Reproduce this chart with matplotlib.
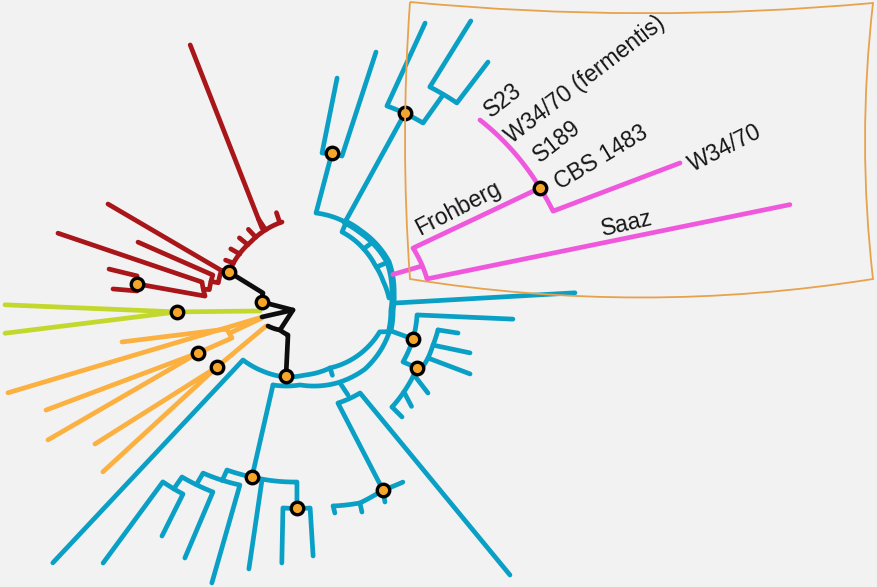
import numpy as np
import matplotlib
matplotlib.use("Agg")
import matplotlib.pyplot as plt
from matplotlib.path import Path
from matplotlib.patches import PathPatch

# ---------------- data: branches as polylines of (angle deg, distance from root centre) ----------------
blue_backbone = [
    [(62.2, 85.9), (50.0, 86.5), (39.5, 88.1), (23.4, 90.5), (5.2, 88.4), (-7.9, 87.8), (-20.6, 90.8)],
]
blue_paths = [
    # top group
    [(81.7, 222.3), (83.3, 146.0), (75.4, 146.7), (73.9, 256.0)],
    [(79.5, 147.5), (82.6, 85.7), (62.2, 85.9), (61.6, 210.3)],
    [(66.4, 300.0), (66.9, 208.8), (56.0, 211.1), (55.8, 245.5)],
    [(59.1, 322.9), (59.4, 245.2), (52.1, 247.2), (52.2, 298.6)],
    # inner / lower backbone
    [(61.5, 86.0), (60.7, 75.7), (40.0, 76.5), (25.2, 77.4), (12.0, 80.0), (0.0, 84.0)],
    [(40.0, 76.5), (39.5, 88.1)],
    [(23.4, 78.0), (23.4, 90.5)],
    [(-20.6, 90.8), (-35.0, 92.0), (-50.0, 93.0), (-69.4, 90.8), (-93.3, 87.1), (-110.2, 92.7)],
    [(-22.0, 90.0), (-24.4, 82.0), (-45.0, 78.5), (-70.3, 74.3), (-90.0, 77.0), (-104.2, 81.5),
     (-120.0, 84.5), (-135.0, 87.7), (-133.6, 365.7)],
    [(-70.3, 74.3), (-70.5, 82.0)],
    # right group
    [(-3.2, 90.0), (1.1, 270.0)],
    [(-21.0, 90.0), (-20.8, 115.5)],
    [(-5.8, 209.0), (-8.6, 113.3), (-20.8, 115.5), (-33.1, 117.0), (-32.0, 132.0)],
    [(-13.5, 136.8), (-20.2, 136.4), (-26.0, 136.9), (-31.0, 136.3), (-32.0, 132.0),
     (-41.1, 135.4), (-51.4, 139.5)],
    [(-13.5, 136.8), (-12.9, 157.0)],
    [(-20.2, 136.4), (-18.4, 173.9)],
    [(-26.0, 136.9), (-24.7, 181.7)],
    [(-35.2, 133.3), (-37.7, 155.4)],
    [(-43.5, 136.3), (-45.5, 152.0)],
    [(-51.4, 139.5), (-50.8, 153.5)],
    # bottom-right group
    [(-67.6, 91.9), (-66.1, 106.1)],
    [(-67.9, 207.2), (-72.6, 110.1), (-59.9, 109.8), (-53.5, 344.6)],
    [(-62.0, 208.5), (-67.9, 207.2), (-75.0, 212.2), (-82.3, 209.9)],
    [(-67.9, 207.2), (-68.6, 219.1)],
    [(-75.0, 212.2), (-75.1, 221.5)],
    [(-82.3, 209.9), (-82.1, 217.1)],
    # bottom group
    [(-110.2, 92.7), (-106.5, 186.7)],
    [(-114.4, 200.4), (-114.4, 188.9), (-106.5, 186.7), (-92.5, 184.2), (-92.2, 210.2)],
    [(-103.3, 186.9), (-101.7, 276.7)],
    [(-120.2, 216.0), (-120.2, 202.6), (-109.2, 198.0), (-108.1, 299.8)],
    [(-124.5, 231.6), (-124.5, 217.2), (-115.4, 214.7), (-114.8, 286.4)],
    [(-127.3, 333.2), (-127.7, 232.4), (-121.9, 230.9), (-121.0, 277.7)],
    [(-95.0, 266.0), (-96.0, 211.1), (-88.6, 210.1), (-88.2, 258.1)],
]
pink_paths = [
    [(15.0, 91.0), (15.3, 121.0)],
    [(25.1, 259.5), (24.8, 119.0), (8.9, 123.5), (10.9, 493.8)],
    [(45.5, 249.6), (25.1, 259.5), (19.3, 262.8), (19.8, 398.6)],
]
red_paths = [
    [(121.6, 82.0), (114.4, 277.9)],
    [(161.1, 80.3), (134.0, 78.0), (106.8, 79.4)],
    [(108.5, 79.4), (108.5, 90.0)],
    [(120.0, 78.6), (120.5, 92.0)],
    [(129.0, 78.2), (129.5, 89.0)],
    [(137.0, 78.0), (137.5, 89.0)],
    [(146.0, 78.6), (146.5, 89.0)],
    [(154.0, 79.5), (154.5, 88.0)],
    [(154.5, 218.3), (161.8, 88.0)],
    [(161.1, 80.3), (161.6, 88.0), (170.0, 88.0), (170.0, 95.5)],
    [(161.5, 176.1), (166.0, 95.0), (175.0, 96.0), (175.0, 102.0)],
    [(165.3, 255.4), (171.2, 104.2), (178.9, 100.0), (175.2, 168.6)],
    [(171.6, 198.1), (172.5, 169.4), (177.6, 168.1), (177.3, 192.2)],
]
green_paths = [
    [(196.1, 46.8), (186.2, 128.8), (181.3, 300.1)],
    [(186.2, 128.8), (186.7, 302.0)],
]
orange_paths = [
    [(193.5, 188.2), (201.7, 83.9), (208.7, 83.2), (207.2, 120.3), (203.4, 282.2)],
    [(207.2, 120.3), (208.9, 293.6)],
    [(205.0, 83.5), (204.9, 47.4)],
    [(197.7, 311.8), (204.0, 47.0)],
    [(214.8, 255.8), (218.1, 111.8), (220.7, 266.6)],
    [(218.1, 111.8), (215.7, 48.0)],
]
black_paths = [
    [(161.1, 80.3), (173.2, 42.3), (185.3, 43.2)],
    [(185.3, 43.2), (225.0, 17.0), (203.8, 47.0)],
    [(225.0, 17.0), (232.0, 40.6)],
    [(217.1, 46.4), (232.0, 40.6), (245.3, 40.7), (256.3, 80.3)],
]
node_dots = [(79.5, 147.5), (61.6, 210.3), (-20.8, 115.5), (-32.0, 132.0), (-67.9, 207.2),
             (-106.5, 186.7), (-92.2, 210.2), (25.1, 259.5), (161.1, 80.3), (185.3, 43.2),
             (175.2, 168.6), (186.2, 128.8), (207.2, 120.3), (218.1, 111.8), (256.3, 80.3)]

leaf_labels = ["S23", "W34/70 (fermentis)", "S189", "CBS 1483", "W34/70", "Saaz", "Frohberg"]
label_angle = [45.0, 37.9, 31.9, 25.3, 19.65, 12.9, 30.5]
label_radius = [280.0, 354.9, 296.9, 327.4, 446.0, 330.4, 177.5]
label_rotation = [38, 37.5, 38, 31, 27, 13, 27.4]

# ---------------- styling ----------------
BG = "#f2f2f2"
C_BLUE = "#0aa0c6"
C_PINK = "#ef58dc"
C_RED = "#a8161a"
C_GREEN = "#c3d82c"
C_ORANGE = "#fbb040"
C_BLACK = "#0d0d0d"
LW = 3.4


def to_xy(path):
    pts = []
    for (t0, r0), (t1, r1) in zip(path[:-1], path[1:]):
        a0, a1 = np.radians(t0), np.radians(t1)
        rm = 0.5 * (r0 + r1)
        if abs(a1 - a0) * rm > abs(r1 - r0):
            n = max(2, int(abs(t1 - t0) * 2) + 2)
            tt = np.linspace(a0, a1, n)
            rr = np.linspace(r0, r1, n)
        else:
            tt = np.array([a0, a1])
            rr = np.array([r0, r1])
        seg = np.column_stack([rr * np.cos(tt), rr * np.sin(tt)])
        pts.append(seg if not pts else seg[1:])
    return np.vstack(pts)


fig = plt.figure(figsize=(8.77, 5.87), dpi=100, facecolor=BG)
ax = fig.add_axes([0, 0, 1, 1])
ax.set_facecolor(BG)
ax.set_xlim(-305, 572)
ax.set_ylim(-289, 298)
ax.axis("off")

kw = dict(solid_capstyle="round", solid_joinstyle="round")
for p in blue_paths:
    xy = to_xy(p)
    ax.plot(xy[:, 0], xy[:, 1], color=C_BLUE, lw=LW, zorder=2, **kw)
for p in blue_backbone:
    xy = to_xy(p)
    ax.plot(xy[:, 0], xy[:, 1], color=C_BLUE, lw=5.0, zorder=2, **kw)
for paths, col in [(pink_paths, C_PINK), (red_paths, C_RED), (green_paths, C_GREEN),
                   (orange_paths, C_ORANGE), (black_paths, C_BLACK)]:
    for p in paths:
        xy = to_xy(p)
        ax.plot(xy[:, 0], xy[:, 1], color=col, lw=LW, zorder=3, **kw)

dots = np.array([(r * np.cos(np.radians(t)), r * np.sin(np.radians(t))) for t, r in node_dots])
ax.plot(dots[:, 0], dots[:, 1], "o", ms=9, mfc="#f5a52a", mec="black", mew=2.4, zorder=5, ls="none")

# inset frame (hand-drawn look)
verts = [(105, 296), (336.5, 274), (568, 295), (552, 157), (568, 19), (336.5, -18), (105, 19),
         (95, 158), (105, 296)]
codes = [Path.MOVETO, Path.CURVE3, Path.CURVE3, Path.CURVE3, Path.CURVE3, Path.CURVE3, Path.CURVE3,
         Path.CURVE3, Path.CURVE3]
ax.add_patch(PathPatch(Path(verts, codes), fill=False, edgecolor="#e9a24c", lw=1.3, zorder=6))

for txt, t, r, rot in zip(leaf_labels, label_angle, label_radius, label_rotation):
    a = np.radians(t)
    ax.text(r * np.cos(a), r * np.sin(a), txt, rotation=rot, rotation_mode="anchor",
            ha="center", va="center", fontsize=16.5, family=["Liberation Sans", "DejaVu Sans"],
            color="#161616", zorder=7)

fig.savefig("out.png", dpi=100, facecolor=BG)
